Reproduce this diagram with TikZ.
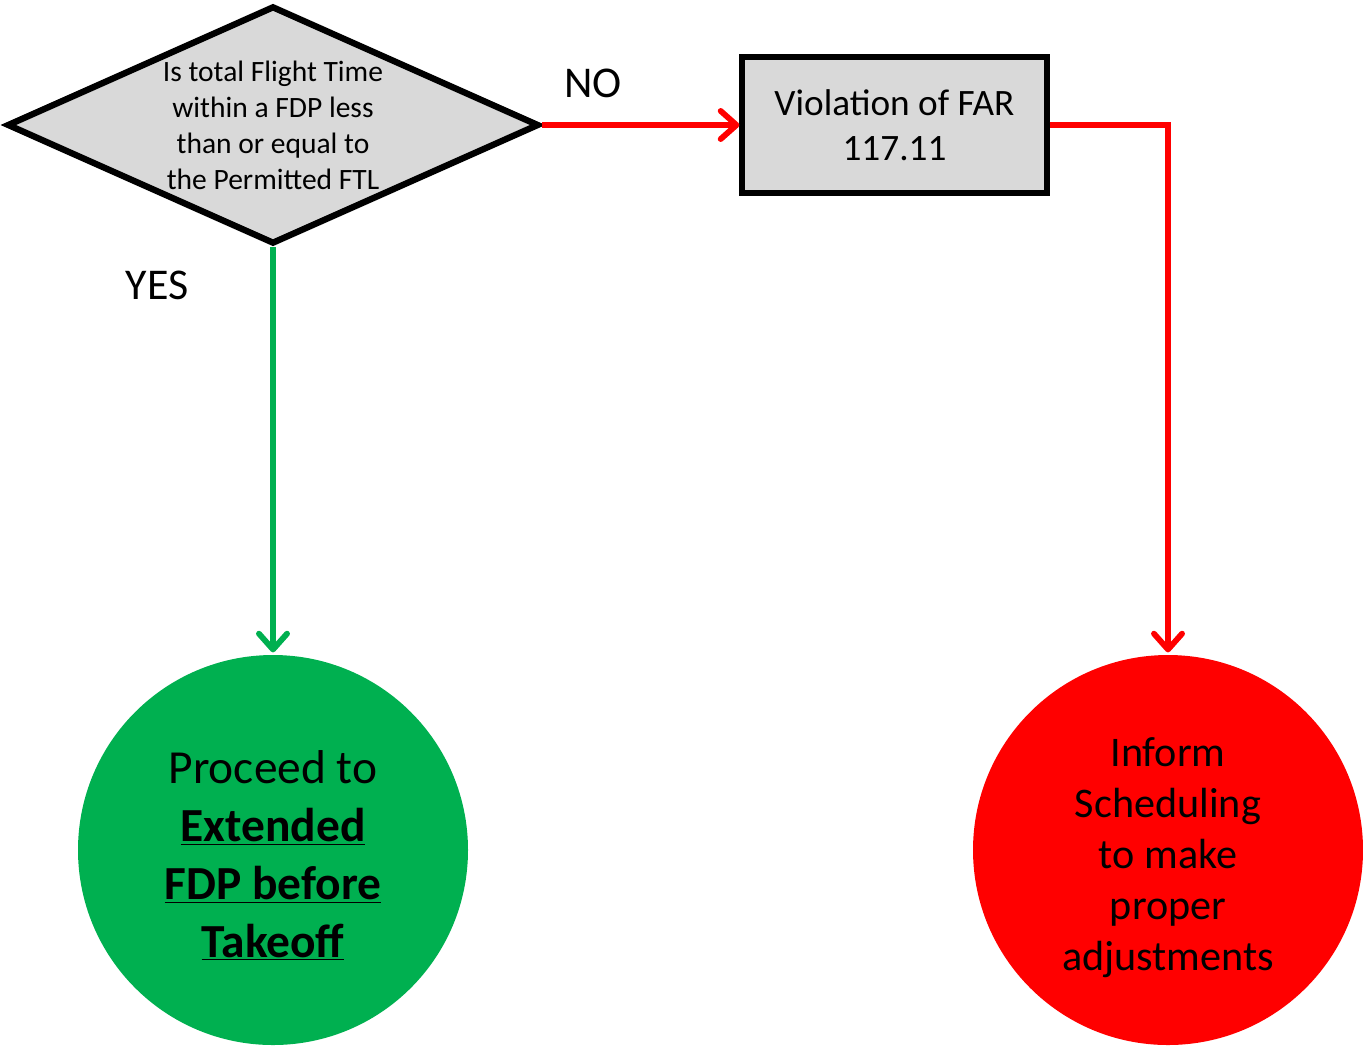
\documentclass[tikz,border=0pt]{standalone}
\usepackage{fontspec}
\setmainfont{Carlito}
\usepackage{tikz}
\usetikzlibrary{shapes.geometric}
\usetikzlibrary{arrows.meta}
\definecolor{boxgray}{HTML}{D9D9D9}
\definecolor{gogreen}{HTML}{00B050}
\definecolor{stopred}{HTML}{FF0000}
\tikzstyle{arrow}=[line width=3.3pt,-{Straight Barb[length=9pt,width=16pt,line width=3.3pt,round]}]
\tikzstyle{decision}=[diamond,draw=black,fill=boxgray,line width=3.6pt,inner sep=0pt,aspect=2.24,minimum width=10.64cm,minimum height=4.76cm,align=center,font=\fontsize{16.8}{20.5}\selectfont]
\tikzstyle{process}=[rectangle,draw=black,fill=boxgray,line width=3pt,minimum width=6.1cm,minimum height=2.72cm,align=center,font=\fontsize{21.2}{25.5}\selectfont]
\tikzstyle{outcome}=[circle,minimum size=7.8cm,inner sep=0pt,align=center]
\tikzset{every picture/.style={
    line width=3pt
  }
}
\begin{document}
\begin{tikzpicture}[line width=3pt]
            \useasboundingbox (0,-20.92) rectangle (27.26,0);
            \node[decision] (check) at (5.46,-2.5) {Is total Flight Time\\within a FDP less\\than or equal to\\the Permitted FTL};
            \node[process] (violation) at (17.89,-2.5) {Violation of FAR\\117.11};
            \node[outcome,fill=gogreen,font=\fontsize{27}{33}\selectfont] (proceed) at (5.46,-17.0) {\rule{0pt}{25pt}Proceed to\\\textbf{\underline{Extended}}\\\textbf{\underline{FDP before}}\\\textbf{\underline{Takeoff}}};
            \node[outcome,fill=stopred,font=\fontsize{24}{29}\selectfont] (inform) at (23.36,-17.0) {\rule{0pt}{25pt}Inform\\Scheduling\\to make\\proper\\adjustments};
            \node[font=\fontsize{25}{30}\selectfont] (no) at (11.86,-1.66) {NO};
            \node[font=\fontsize{25}{30}\selectfont] (yes) at (3.14,-5.7) {YES};
            \draw[arrow,color=stopred] (check.east) -- (violation.west);
            \draw[arrow,color=stopred] (violation.east) -| (inform.north);
            \draw[arrow,color=gogreen] (check.south) -- (proceed.north);
          \end{tikzpicture}
\end{document}
